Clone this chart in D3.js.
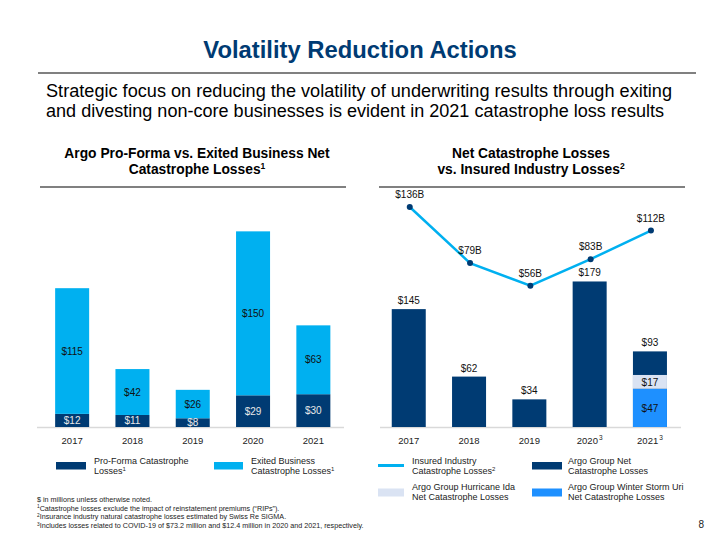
<!DOCTYPE html>
<html><head><meta charset="utf-8">
<script src="https://cdn.jsdelivr.net/npm/d3@7"></script>
<style>body{margin:0;background:#fff}svg{display:block}text{font-family:"Liberation Sans",Arial,sans-serif}</style>
</head><body><svg id="c" width="720" height="540"></svg>
<script>
const years = ["2017","2018","2019","2020","2021"];
const proForma = [12, 11, 8, 29, 30];
const exited = [115, 42, 26, 150, 63];
const netCat = [145, 62, 34, 179, 93];
const hurricaneIda = [0, 0, 0, 0, 17];
const winterUri = [0, 0, 0, 0, 47];
const industry = [136, 79, 56, 83, 112];
const rightTickSup = ["", "", "", "3", "3"];

const NAVY = "#003b73", LBLUE = "#00b0f0", IDA = "#dae3f3", URI = "#1e90ff";
const svg = d3.select("#c");

// Header
svg.append("text").attr("x", 360).attr("y", 58).attr("text-anchor", "middle")
  .attr("font-size", 23.8).attr("font-weight", "bold").attr("fill", "#003b73").text("Volatility Reduction Actions");
svg.append("line").attr("x1", 38).attr("x2", 696).attr("y1", 73).attr("y2", 73).attr("stroke", "#808080").attr("stroke-width", 2);
svg.append("text").attr("x", 46).attr("y", 97).attr("font-size", 17.5).attr("fill", "#000")
  .attr("textLength", 626).attr("lengthAdjust", "spacingAndGlyphs")
  .text("Strategic focus on reducing the volatility of underwriting results through exiting");
svg.append("text").attr("x", 46).attr("y", 117).attr("font-size", 17.5).attr("fill", "#000")
  .attr("textLength", 618).attr("lengthAdjust", "spacingAndGlyphs")
  .text("and divesting non-core businesses is evident in 2021 catastrophe loss results");

// Chart titles
function title(cx, lines) {
  lines.forEach((l, i) => {
    const t = svg.append("text").attr("x", cx).attr("y", 158 + i * 16).attr("text-anchor", "middle")
      .attr("font-size", 13.8).attr("font-weight", "bold").attr("fill", "#000");
    t.append("tspan").text(l[0]);
    if (l[1]) t.append("tspan").attr("font-size", 8.5).attr("dy", -5).text(l[1]);
  });
}
title(197, [["Argo Pro-Forma vs. Exited Business Net"], ["Catastrophe Losses", "1"]]);
title(531, [["Net Catastrophe Losses"], ["vs. Insured Industry Losses", "2"]]);
svg.append("line").attr("x1", 40).attr("x2", 346).attr("y1", 187).attr("y2", 187).attr("stroke", "#808080").attr("stroke-width", 2);
svg.append("line").attr("x1", 379).attr("x2", 685).attr("y1", 187).attr("y2", 187).attr("stroke", "#808080").attr("stroke-width", 2);

// Left chart
const xL = d3.scaleBand().domain(years).range([42, 343.5]).paddingInner(0.436).paddingOuter(0.218);
const yL = d3.scaleLinear().domain([0, 200]).range([427, 208.4]);
const gL = svg.append("g");
gL.append("line").attr("x1", 37).attr("x2", 344).attr("y1", 427.5).attr("y2", 427.5).attr("stroke", "#d9d9d9").attr("stroke-width", 1.5);
years.forEach((yr, i) => {
  const x = xL(yr), w = xL.bandwidth();
  gL.append("rect").attr("x", x).attr("width", w).attr("y", yL(proForma[i])).attr("height", yL(0) - yL(proForma[i])).attr("fill", NAVY);
  gL.append("rect").attr("x", x).attr("width", w).attr("y", yL(proForma[i] + exited[i])).attr("height", yL(0) - yL(exited[i])).attr("fill", LBLUE);
  gL.append("text").attr("x", x + w / 2).attr("y", (yL(0) + yL(proForma[i])) / 2 + 3.5).attr("text-anchor", "middle")
    .attr("font-size", 10).attr("fill", "#e8e8e8").text("$" + proForma[i]);
  gL.append("text").attr("x", x + w / 2).attr("y", (yL(proForma[i]) + yL(proForma[i] + exited[i])) / 2 + 3.5).attr("text-anchor", "middle")
    .attr("font-size", 10).attr("fill", "#111").text("$" + exited[i]);
});
const axL = gL.append("g").attr("transform", "translate(0,427)").call(d3.axisBottom(xL).tickSize(0).tickPadding(10));
axL.select(".domain").remove();
axL.selectAll("text").attr("font-size", 9.5).attr("fill", "#222").style("font-family", '"Liberation Sans",Arial,sans-serif');

// Right chart
const xR = d3.scaleBand().domain(years).range([378.6, 680.1]).paddingInner(0.436).paddingOuter(0.218);
const yR = d3.scaleLinear().domain([0, 200]).range([427, 264.4]);
const yLine = d3.scaleLinear().domain([0, 136]).range([340.8, 207]);
const gR = svg.append("g");
gR.append("line").attr("x1", 380).attr("x2", 681).attr("y1", 427.5).attr("y2", 427.5).attr("stroke", "#d9d9d9").attr("stroke-width", 1.5);
years.forEach((yr, i) => {
  const x = xR(yr), w = xR.bandwidth();
  gR.append("rect").attr("x", x).attr("width", w).attr("y", yR(netCat[i])).attr("height", yR(0) - yR(netCat[i])).attr("fill", NAVY);
  if (winterUri[i]) {
    gR.append("rect").attr("x", x).attr("width", w).attr("y", yR(winterUri[i])).attr("height", yR(0) - yR(winterUri[i])).attr("fill", URI);
    gR.append("text").attr("x", x + w / 2).attr("y", (yR(0) + yR(winterUri[i])) / 2 + 4).attr("text-anchor", "middle")
      .attr("font-size", 10).attr("fill", "#111").text("$" + winterUri[i]);
  }
  if (hurricaneIda[i]) {
    const b = winterUri[i], t = winterUri[i] + hurricaneIda[i];
    gR.append("rect").attr("x", x).attr("width", w).attr("y", yR(t)).attr("height", yR(b) - yR(t)).attr("fill", IDA);
    gR.append("text").attr("x", x + w / 2).attr("y", (yR(b) + yR(t)) / 2 + 4).attr("text-anchor", "middle")
      .attr("font-size", 10).attr("fill", "#111").text("$" + hurricaneIda[i]);
  }
  gR.append("text").attr("x", x + w / 2).attr("y", yR(netCat[i]) - 5).attr("text-anchor", "middle")
    .attr("font-size", 10).attr("fill", "#111").text("$" + netCat[i]);
});
const lineGen = d3.line().x((d, i) => xR(years[i]) + xR.bandwidth() / 2 + 1).y(d => yLine(d));
gR.append("path").datum(industry).attr("d", lineGen).attr("fill", "none").attr("stroke", LBLUE).attr("stroke-width", 2.5);
industry.forEach((v, i) => {
  const cx = xR(years[i]) + xR.bandwidth() / 2 + 1;
  gR.append("circle").attr("cx", cx).attr("cy", yLine(v)).attr("r", 3).attr("fill", NAVY);
  gR.append("text").attr("x", cx).attr("y", yLine(v) - 9).attr("text-anchor", "middle")
    .attr("font-size", 10).attr("fill", "#111").text("$" + v + "B");
});
const axR = gR.append("g").attr("transform", "translate(0,427)").call(d3.axisBottom(xR).tickSize(0).tickPadding(10));
axR.select(".domain").remove();
axR.selectAll("text").attr("font-size", 9.5).attr("fill", "#222").style("font-family", '"Liberation Sans",Arial,sans-serif')
  .each(function(d, i) { if (rightTickSup[i]) d3.select(this).append("tspan").attr("font-size", 6.5).attr("dx", 1).attr("dy", -4).text(rightTickSup[i]); });

// Legend
function legendText(x, y, lines) {
  lines.forEach((l, i) => {
    const t = svg.append("text").attr("x", x).attr("y", y + i * 9.5).attr("font-size", 9).attr("fill", "#222");
    t.append("tspan").text(l[0]);
    if (l[1]) t.append("tspan").attr("font-size", 6).attr("dy", -3).text(l[1]);
  });
}
svg.append("rect").attr("x", 56).attr("y", 462).attr("width", 30).attr("height", 7.5).attr("fill", NAVY);
legendText(94, 464, [["Pro-Forma Catastrophe"], ["Losses", "1"]]);
svg.append("rect").attr("x", 214).attr("y", 462).attr("width", 29).attr("height", 7.5).attr("fill", LBLUE);
legendText(251, 464, [["Exited Business"], ["Catastrophe Losses", "1"]]);
svg.append("line").attr("x1", 378).attr("x2", 404).attr("y1", 465.5).attr("y2", 465.5).attr("stroke", LBLUE).attr("stroke-width", 3);
legendText(412, 464, [["Insured Industry"], ["Catastrophe Losses", "2"]]);
svg.append("rect").attr("x", 532).attr("y", 462).attr("width", 30).attr("height", 7.5).attr("fill", NAVY);
legendText(568, 464, [["Argo Group Net"], ["Catastrophe Losses"]]);
svg.append("rect").attr("x", 378).attr("y", 488.5).attr("width", 26).attr("height", 8).attr("fill", IDA);
legendText(412, 490, [["Argo Group Hurricane Ida"], ["Net Catastrophe Losses"]]);
svg.append("rect").attr("x", 532).attr("y", 488.5).attr("width", 30).attr("height", 8).attr("fill", URI);
legendText(568, 490, [["Argo Group Winter Storm Uri"], ["Net Catastrophe Losses"]]);

// Footnotes
const notes = [["", "$ in millions unless otherwise noted."],
  ["1", "Catastrophe losses exclude the impact of reinstatement premiums (\u201cRIPs\u201d)."],
  ["2", "Insurance industry natural catastrophe losses estimated by Swiss Re SIGMA."],
  ["3", "Includes losses related to COVID-19 of $73.2 million and $12.4 million in 2020 and 2021, respectively."]];
notes.forEach((n, i) => {
  const t = svg.append("text").attr("x", 37).attr("y", 502 + i * 8.7).attr("font-size", 7.2).attr("fill", "#222");
  if (n[0]) t.append("tspan").attr("font-size", 4.8).attr("dy", -2.5).text(n[0]);
  t.append("tspan").attr("dy", n[0] ? 2.5 : 0).text(n[1]);
});
svg.append("text").attr("x", 704).attr("y", 528).attr("text-anchor", "end").attr("font-size", 10).attr("fill", "#222").text("8");
</script></body></html>
